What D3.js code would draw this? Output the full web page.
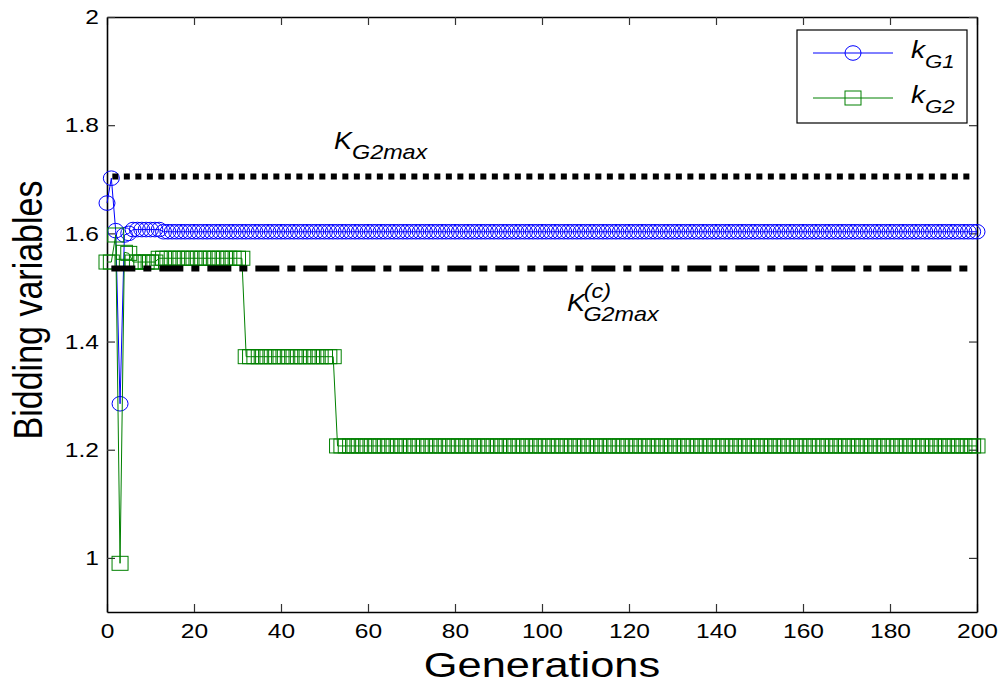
<!DOCTYPE html>
<html>
<head>
<meta charset="UTF-8">
<title>Bidding variables</title>
<script src="https://cdn.jsdelivr.net/npm/d3@7"></script>
<style>
body { margin: 0; background: #fff; }
text { font-family: "Liberation Sans", Arial, sans-serif; fill: #000; }
.axis path { stroke: #000; stroke-width: 1.6; }
.axis line { stroke: #333; stroke-width: 1.2; }
</style>
</head>
<body>
<div id="chart"></div>
<script>
// ---- data ----
var xTicks = [0, 20, 40, 60, 80, 100, 120, 140, 160, 180, 200];
var yTicks = [1, 1.2, 1.4, 1.6, 1.8, 2];

var kG1 = [
  1.656, 1.702, 1.605, 1.285, 1.597, 1.600, 1.607, 1.607, 1.607, 1.607,
  1.607, 1.607, 1.607, 1.603, 1.603, 1.603, 1.603, 1.603, 1.603, 1.603,
  1.603, 1.603, 1.603, 1.603, 1.603, 1.603, 1.603, 1.603, 1.603, 1.603,
  1.603, 1.603, 1.603, 1.603, 1.603, 1.603, 1.603, 1.603, 1.603, 1.603,
  1.603, 1.603, 1.603, 1.603, 1.603, 1.603, 1.603, 1.603, 1.603, 1.603,
  1.603, 1.603, 1.603, 1.603, 1.603, 1.603, 1.603, 1.603, 1.603, 1.603,
  1.603, 1.603, 1.603, 1.603, 1.603, 1.603, 1.603, 1.603, 1.603, 1.603,
  1.603, 1.603, 1.603, 1.603, 1.603, 1.603, 1.603, 1.603, 1.603, 1.603,
  1.603, 1.603, 1.603, 1.603, 1.603, 1.603, 1.603, 1.603, 1.603, 1.603,
  1.603, 1.603, 1.603, 1.603, 1.603, 1.603, 1.603, 1.603, 1.603, 1.603,
  1.603, 1.603, 1.603, 1.603, 1.603, 1.603, 1.603, 1.603, 1.603, 1.603,
  1.603, 1.603, 1.603, 1.603, 1.603, 1.603, 1.603, 1.603, 1.603, 1.603,
  1.603, 1.603, 1.603, 1.603, 1.603, 1.603, 1.603, 1.603, 1.603, 1.603,
  1.603, 1.603, 1.603, 1.603, 1.603, 1.603, 1.603, 1.603, 1.603, 1.603,
  1.603, 1.603, 1.603, 1.603, 1.603, 1.603, 1.603, 1.603, 1.603, 1.603,
  1.603, 1.603, 1.603, 1.603, 1.603, 1.603, 1.603, 1.603, 1.603, 1.603,
  1.603, 1.603, 1.603, 1.603, 1.603, 1.603, 1.603, 1.603, 1.603, 1.603,
  1.603, 1.603, 1.603, 1.603, 1.603, 1.603, 1.603, 1.603, 1.603, 1.603,
  1.603, 1.603, 1.603, 1.603, 1.603, 1.603, 1.603, 1.603, 1.603, 1.603,
  1.603, 1.603, 1.603, 1.603, 1.603, 1.603, 1.603, 1.603, 1.603, 1.603,
  1.603
];

var kG2 = [
  1.547, 1.547, 1.597, 0.990, 1.565, 1.563, 1.547, 1.547, 1.547, 1.547,
  1.547, 1.547, 1.554, 1.554, 1.554, 1.554, 1.554, 1.554, 1.554, 1.554,
  1.554, 1.554, 1.554, 1.554, 1.554, 1.554, 1.554, 1.554, 1.554, 1.554,
  1.554, 1.554, 1.372, 1.372, 1.372, 1.372, 1.372, 1.372, 1.372, 1.372,
  1.372, 1.372, 1.372, 1.372, 1.372, 1.372, 1.372, 1.372, 1.372, 1.372,
  1.372, 1.372, 1.372, 1.207, 1.207, 1.207, 1.207, 1.207, 1.207, 1.207,
  1.207, 1.207, 1.207, 1.207, 1.207, 1.207, 1.207, 1.207, 1.207, 1.207,
  1.207, 1.207, 1.207, 1.207, 1.207, 1.207, 1.207, 1.207, 1.207, 1.207,
  1.207, 1.207, 1.207, 1.207, 1.207, 1.207, 1.207, 1.207, 1.207, 1.207,
  1.207, 1.207, 1.207, 1.207, 1.207, 1.207, 1.207, 1.207, 1.207, 1.207,
  1.207, 1.207, 1.207, 1.207, 1.207, 1.207, 1.207, 1.207, 1.207, 1.207,
  1.207, 1.207, 1.207, 1.207, 1.207, 1.207, 1.207, 1.207, 1.207, 1.207,
  1.207, 1.207, 1.207, 1.207, 1.207, 1.207, 1.207, 1.207, 1.207, 1.207,
  1.207, 1.207, 1.207, 1.207, 1.207, 1.207, 1.207, 1.207, 1.207, 1.207,
  1.207, 1.207, 1.207, 1.207, 1.207, 1.207, 1.207, 1.207, 1.207, 1.207,
  1.207, 1.207, 1.207, 1.207, 1.207, 1.207, 1.207, 1.207, 1.207, 1.207,
  1.207, 1.207, 1.207, 1.207, 1.207, 1.207, 1.207, 1.207, 1.207, 1.207,
  1.207, 1.207, 1.207, 1.207, 1.207, 1.207, 1.207, 1.207, 1.207, 1.207,
  1.207, 1.207, 1.207, 1.207, 1.207, 1.207, 1.207, 1.207, 1.207, 1.207,
  1.207, 1.207, 1.207, 1.207, 1.207, 1.207, 1.207, 1.207, 1.207, 1.207,
  1.207
];

// reference limits: [first gen, last gen, value]
var kG2max = [1, 199, 1.705];
var kG2maxC = [1, 199, 1.535];

var generations = d3.range(0, kG1.length);

// ---- layout ----
var width = 1008, height = 686;
var mLeft = 107, mRight = 977, mTop = 17, mBottom = 612;
var sx = 1.17; // picture is a bit wider than tall

var x = d3.scaleLinear().domain([0, 200]).range([mLeft, mRight]);
var y = d3.scaleLinear().domain([0.9, 2]).range([mBottom, mTop]);

var svg = d3.select("#chart").append("svg")
  .attr("width", width)
  .attr("height", height);

// axes (ticks point inward, box on)
var gx = svg.append("g").attr("class", "axis")
  .attr("transform", "translate(0," + mBottom + ")")
  .call(d3.axisBottom(x).tickValues(xTicks).tickSize(-8).tickSizeOuter(0).tickPadding(11));
svg.append("g").attr("class", "axis")
  .attr("transform", "translate(0," + mTop + ")")
  .call(d3.axisTop(x).tickValues(xTicks).tickSize(-8).tickSizeOuter(0).tickFormat(""));
var gy = svg.append("g").attr("class", "axis")
  .attr("transform", "translate(" + mLeft + ",0)")
  .call(d3.axisLeft(y).tickValues(yTicks).tickSize(-8).tickSizeOuter(0).tickFormat(function(d) { return d; }));
svg.append("g").attr("class", "axis")
  .attr("transform", "translate(" + mRight + ",0)")
  .call(d3.axisRight(y).tickValues(yTicks).tickSize(-8).tickSizeOuter(0).tickFormat(""));

gx.selectAll("text")
  .attr("font-size", 21)
  .attr("font-family", "Liberation Sans, Arial, sans-serif")
  .attr("fill", "#000")
  .attr("transform", "scale(" + sx + ",1)");
gy.selectAll("text")
  .attr("font-size", 21)
  .attr("font-family", "Liberation Sans, Arial, sans-serif")
  .attr("fill", "#000")
  .attr("x", 0)
  .attr("transform", "translate(-8,0) scale(" + sx + ",1)");

// axis titles
svg.append("text")
  .attr("transform", "translate(" + 542 + "," + 677 + ") scale(1.24,1)")
  .attr("text-anchor", "middle")
  .attr("font-size", 35)
  .text("Generations");
svg.append("text")
  .attr("transform", "translate(" + 42 + "," + 310 + ") rotate(-90) scale(1," + sx + ")")
  .attr("text-anchor", "middle")
  .attr("font-size", 34)
  .text("Bidding variables");

// series
var line = d3.line()
  .x(function(d) { return x(d[0]); })
  .y(function(d) { return y(d[1]); });

var s1 = generations.map(function(g) { return [g, kG1[g]]; });
var s2 = generations.map(function(g) { return [g, kG2[g]]; });

var blue = "#0000ff", green = "#008000";

svg.append("path").datum(s1)
  .attr("d", line).attr("fill", "none").attr("stroke", blue).attr("stroke-width", 1);
svg.append("g").selectAll("ellipse").data(s1).enter().append("ellipse")
  .attr("cx", function(d) { return x(d[0]); })
  .attr("cy", function(d) { return y(d[1]); })
  .attr("rx", 8).attr("ry", 7.3)
  .attr("fill", "none").attr("stroke", blue).attr("stroke-width", 1);

svg.append("path").datum(s2)
  .attr("d", line).attr("fill", "none").attr("stroke", green).attr("stroke-width", 1);
svg.append("g").selectAll("rect").data(s2).enter().append("rect")
  .attr("x", function(d) { return x(d[0]) - 8; })
  .attr("y", function(d) { return y(d[1]) - 7; })
  .attr("width", 16).attr("height", 14)
  .attr("fill", "none").attr("stroke", green).attr("stroke-width", 1);

// limit lines
svg.append("line")
  .attr("x1", x(kG2max[0]) + 1).attr("x2", x(kG2max[1]) - 3)
  .attr("y1", y(kG2max[2])).attr("y2", y(kG2max[2]))
  .attr("stroke", "#000").attr("stroke-width", 6)
  .attr("stroke-dasharray", "6,5.5");
svg.append("line")
  .attr("x1", x(kG2maxC[0])).attr("x2", x(kG2maxC[1]) - 3)
  .attr("y1", y(kG2maxC[2])).attr("y2", y(kG2maxC[2]))
  .attr("stroke", "#000").attr("stroke-width", 6)
  .attr("stroke-dasharray", "24,8,8,8");

// annotations
var a1 = svg.append("text")
  .attr("transform", "translate(334,149) scale(" + sx + ",1)")
  .attr("font-size", 23).attr("font-style", "italic");
a1.append("tspan").text("K");
a1.append("tspan").attr("dy", 10).attr("font-size", 20).text("G2max");

var a2 = svg.append("text")
  .attr("transform", "translate(567,311) scale(" + sx + ",1)")
  .attr("font-size", 23).attr("font-style", "italic");
a2.append("tspan").text("K");
a2.append("tspan").attr("dx", -1).attr("dy", -13).attr("font-size", 20).text("(c)");
a2.append("tspan").attr("x", 14).attr("dy", 23).attr("font-size", 20).text("G2max");

// legend
var lg = svg.append("g");
lg.append("rect")
  .attr("x", 797).attr("y", 30).attr("width", 170).attr("height", 93)
  .attr("fill", "#fff").attr("stroke", "#000").attr("stroke-width", 1.2);
var legendItems = [
  { name: "G1", color: blue, cy: 53, shape: "circle" },
  { name: "G2", color: green, cy: 98, shape: "square" }
];
legendItems.forEach(function(it) {
  lg.append("line")
    .attr("x1", 813).attr("x2", 893).attr("y1", it.cy).attr("y2", it.cy)
    .attr("stroke", it.color).attr("stroke-width", 1);
  if (it.shape === "circle") {
    lg.append("ellipse").attr("cx", 853).attr("cy", it.cy).attr("rx", 8).attr("ry", 7.3)
      .attr("fill", "none").attr("stroke", it.color);
  } else {
    lg.append("rect").attr("x", 845).attr("y", it.cy - 7).attr("width", 16).attr("height", 14)
      .attr("fill", "none").attr("stroke", it.color);
  }
  var t = lg.append("text")
    .attr("transform", "translate(911," + (it.cy + 5) + ") scale(" + sx + ",1)")
    .attr("font-size", 24).attr("font-style", "italic");
  t.append("tspan").text("k");
  t.append("tspan").attr("dy", 10).attr("font-size", 19).text(it.name);
});
</script>
</body>
</html>
